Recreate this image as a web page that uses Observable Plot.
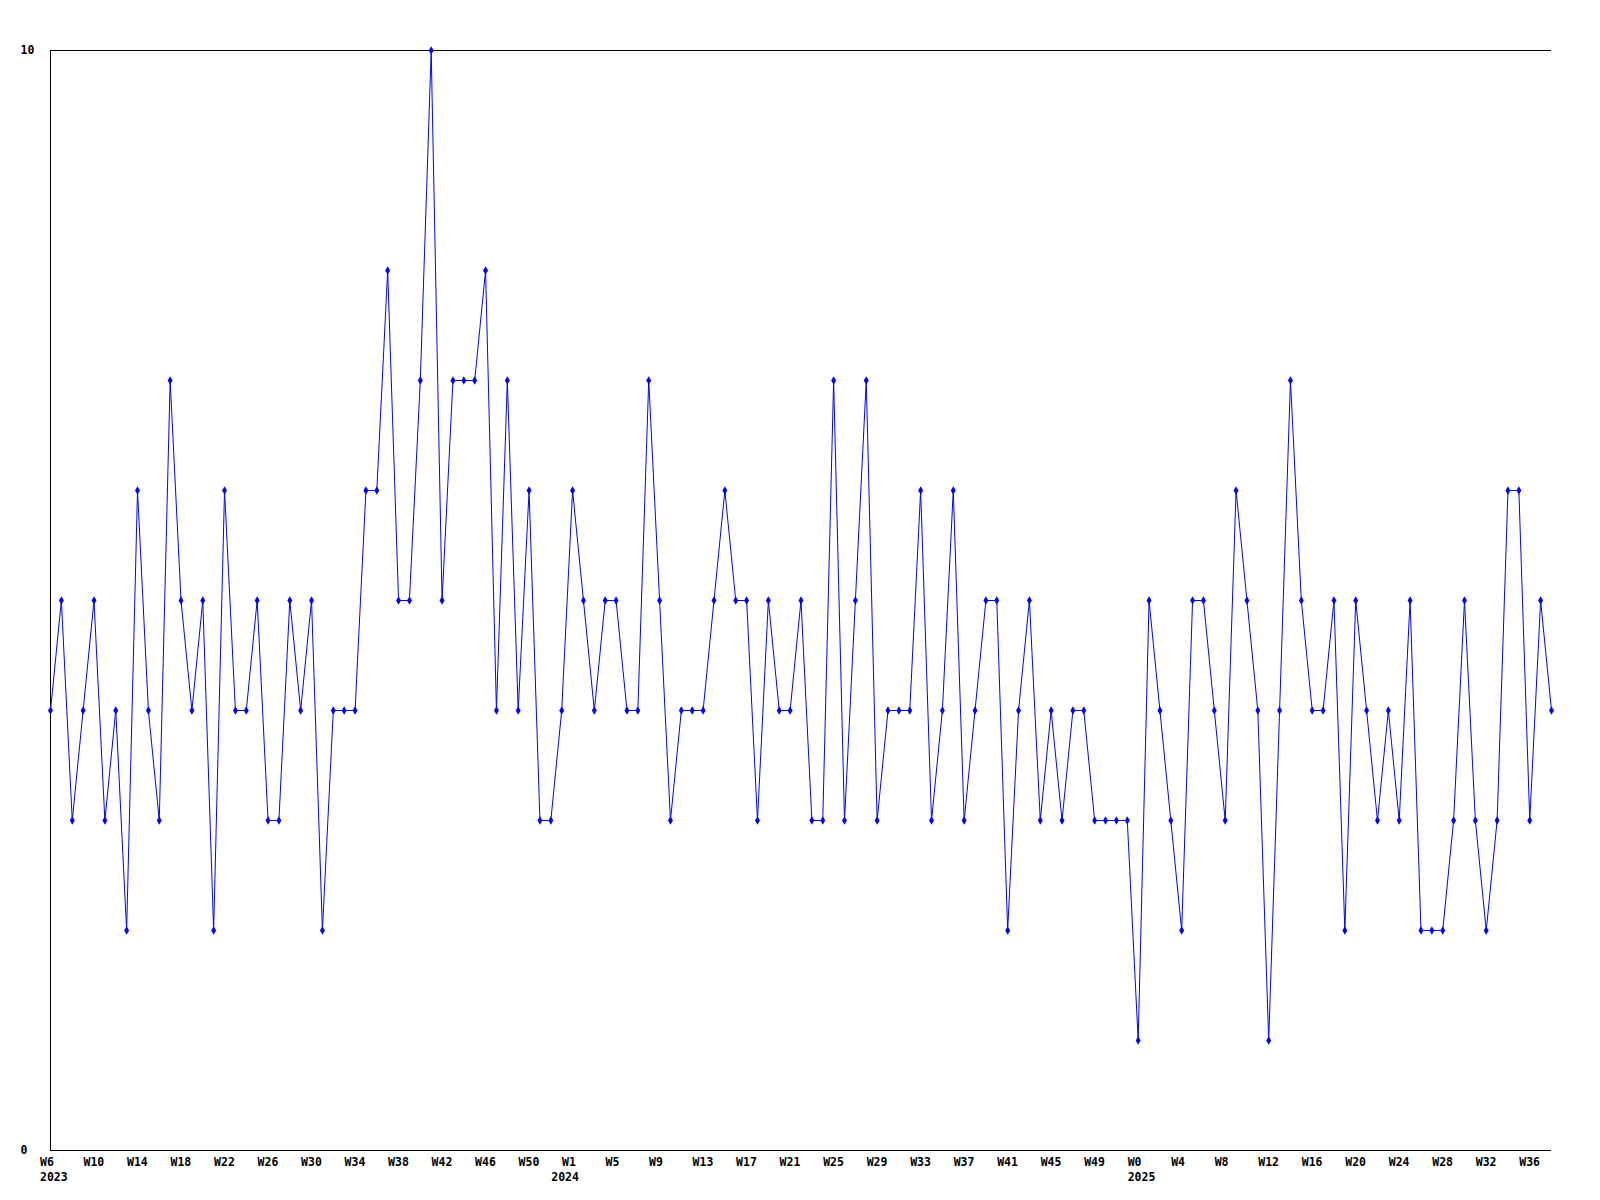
<!DOCTYPE html>
<html>
<head>
<meta charset="utf-8">
<script src="https://cdn.jsdelivr.net/npm/d3@7"></script>
<script src="https://cdn.jsdelivr.net/npm/@observablehq/plot@0.6"></script>
<style>
  html, body { margin: 0; padding: 0; background: #fff; overflow: hidden; }
  #chart svg { display: block; }
</style>
</head>
<body>
<div id="chart"></div>
<script>
// Weekly values, one per point (W6 2023 … W38 2025)
const values = [
  4,5,3,4,5,3,4,2,6,4,
  3,7,5,4,5,2,6,4,4,5,
  3,3,5,4,5,2,4,4,4,6,
  6,8,5,5,7,10,5,7,7,7,
  8,4,7,4,6,3,3,4,6,5,
  4,5,5,4,4,7,5,3,4,4,
  4,5,6,5,5,3,5,4,4,5,
  3,3,7,3,5,7,3,4,4,4,
  6,3,4,6,3,4,5,5,2,4,
  5,3,4,3,4,4,3,3,3,3,
  1,5,4,3,2,5,5,4,3,6,
  5,4,1,4,7,5,4,4,5,2,
  5,4,3,4,3,5,2,2,2,3,
  5,3,2,3,6,6,3,5,4
];

// X tick labels, one every 4th point
const weekTicks = [
  "W6","W10","W14","W18","W22","W26","W30","W34","W38","W42","W46","W50",
  "W1","W5","W9","W13","W17","W21","W25","W29","W33","W37","W41","W45","W49",
  "W0","W4","W8","W12","W16","W20","W24","W28","W32","W36"
];
// Year labels and the index of the first point of each year
const yearLabels = ["2023", "2024", "2025"];
const yearStartPoint = [0, 47, 100];

// Y tick labels
const yTicks = [0, 10];

const tickStep = 4;
const data = values.map((v, i) => ({i, v}));
const ticks = weekTicks.map((label, k) => ({i: k * tickStep, label}));
const years = yearLabels.map((label, k) => ({i: yearStartPoint[k], label}));

const font = "'DejaVu Sans Mono', 'Liberation Mono', monospace";

const chart = Plot.plot({
  width: 1600,
  height: 1200,
  marginLeft: 50,
  marginRight: 49,
  marginTop: 50,
  marginBottom: 50,
  style: {fontFamily: font, fontSize: "11.5px", background: "#fff", color: "#000"},
  x: {domain: [0, values.length - 1], axis: null},
  y: {domain: [0, 10], axis: null},
  marks: [
    Plot.ruleY(yTicks, {stroke: "#000", strokeWidth: 1}),
    Plot.ruleX([0], {stroke: "#000", strokeWidth: 1}),
    Plot.line(data, {x: "i", y: "v", stroke: "#0000ff", strokeWidth: 1}),
    Plot.dot(data, {x: "i", y: "v", fill: "#0000ff", stroke: "none", symbol: "diamond", r: 2.6}),
    Plot.text(ticks, {x: "i", text: "label", frameAnchor: "bottom", dy: 12, dx: -10.5,
      textAnchor: "start", lineAnchor: "middle", fontWeight: "bold", fill: "#000"}),
    Plot.text(years, {x: "i", text: "label", frameAnchor: "bottom", dy: 27, dx: -10.5,
      textAnchor: "start", lineAnchor: "middle", fontWeight: "bold", fill: "#000"}),
    Plot.text(yTicks, {y: d => d, text: d => String(d), frameAnchor: "left", dx: -30,
      textAnchor: "start", lineAnchor: "middle", fontWeight: "bold", fill: "#000"})
  ]
});
document.getElementById("chart").append(chart);
</script>
</body>
</html>
